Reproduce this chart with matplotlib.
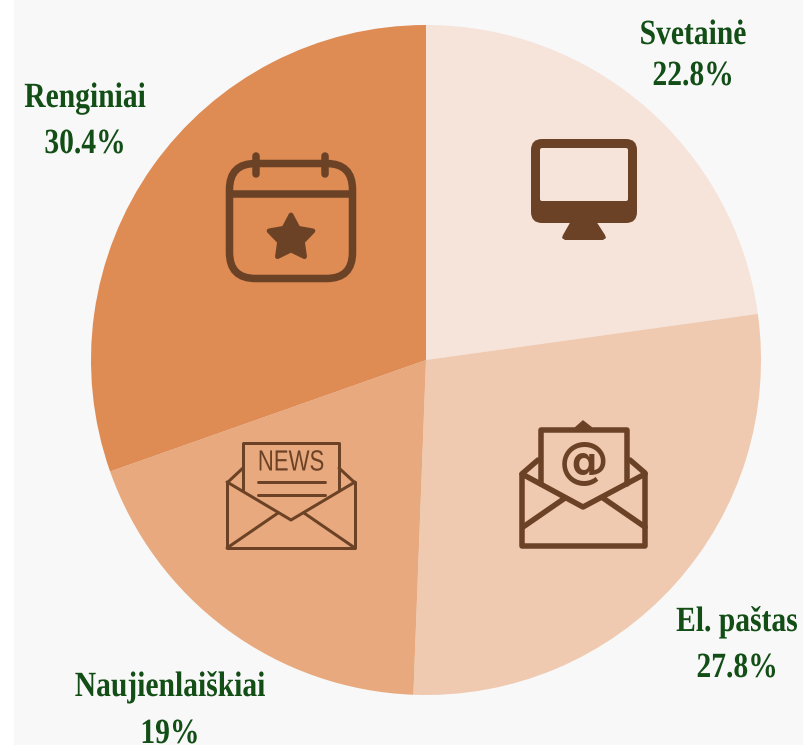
import matplotlib
matplotlib.use("Agg")
import numpy as np
import matplotlib.pyplot as plt
import matplotlib.patheffects as pe
from matplotlib.patches import FancyBboxPatch, Polygon, Rectangle
from matplotlib.transforms import Affine2D

# Data
categories = ["Svetainė", "El. paštas", "Naujienlaiškiai", "Renginiai"]
values = [22.8, 27.8, 19, 30.4]
value_labels = ["22.8%", "27.8%", "19%", "30.4%"]

# Style
slice_colors = ["#F6E3DA", "#EFCAB0", "#E8A97E", "#DE8B54"]
BG = "#F8F8F8"
ICON = "#6B4226"
GREEN = "#124E16"
W, H = 804, 745
CX, CY, R = 426, 360, 335
label_pos = [(693, 44, 85), (737, 631, 677), (170, 696, 743), (85, 107, 153)]


class SqueezeX(pe.AbstractPathEffect):
    """Narrow a text horizontally about a pixel x position (condensed look)."""

    def __init__(self, cx, sx):
        super().__init__()
        self.cx, self.sx = cx, sx

    def draw_path(self, renderer, gc, tpath, affine, rgbFace=None):
        a = affine + Affine2D().translate(-self.cx, 0).scale(self.sx, 1).translate(self.cx, 0)
        renderer.draw_path(gc, tpath, a, rgbFace)


fig = plt.figure(figsize=(W / 100, H / 100), dpi=100, facecolor=BG)

# White strip down the left edge
fig.add_artist(Rectangle((0, 0), 14 / W, 1, transform=fig.transFigure, fc="white", ec="none"))

pie_ax = fig.add_axes([(CX - R) / W, 1 - (CY + R) / H, 2 * R / W, 2 * R / H])
pie_ax.pie(values, colors=slice_colors, startangle=90, counterclock=False,
           radius=1, wedgeprops=dict(linewidth=0))
pie_ax.set_xlim(-1, 1)
pie_ax.set_ylim(-1, 1)
pie_ax.set_aspect("equal")
pie_ax.axis("off")

ax = fig.add_axes([0, 0, 1, 1], facecolor="none")
ax.set_xlim(0, W)
ax.set_ylim(H, 0)
ax.axis("off")

for cat, vl, (x, y1, y2) in zip(categories, value_labels, label_pos):
    for s, y in ((cat, y1), (vl, y2)):
        ax.text(x, y, s, ha="center", va="baseline", color=GREEN, fontsize=25.5,
                fontweight="bold", family="Liberation Serif",
                path_effects=[SqueezeX(x, 0.835)])


def line(pts, lw):
    xs, ys = zip(*pts)
    ax.plot(xs, ys, color=ICON, lw=lw * 0.72, solid_capstyle="round",
            solid_joinstyle="round")


def rrect(x0, y0, x1, y1, r, lw=0.0, fill=None):
    ax.add_patch(FancyBboxPatch((x0 + r, y0 + r), x1 - x0 - 2 * r, y1 - y0 - 2 * r,
                                boxstyle=f"round,pad={r},rounding_size={r}",
                                fc=fill if fill else "none",
                                ec=ICON if lw else "none", lw=lw * 0.72))


# Monitor
rrect(531, 139, 637, 223, 11, fill=ICON)
rrect(540, 148, 628, 201, 2, fill=slice_colors[0])
ax.add_patch(Polygon([(571, 221), (596, 221), (605, 235), (606, 238), (603, 240),
                      (565, 240), (562, 238), (563, 235)], closed=True, fc=ICON, ec="none"))

# Mail envelope
m = 5.5
line([(522, 474), (522, 546), (645, 546), (645, 474)], m)
line([(522, 474), (583, 507), (645, 474)], m)
line([(523, 527), (565, 498)], m)
line([(645, 527), (603, 498)], m)
line([(541, 484), (541, 430), (627, 430), (627, 484)], m)
line([(523, 473), (538, 460)], m)
line([(645, 473), (630, 460)], m)
ax.add_patch(Polygon([(575, 428), (583, 421), (592, 428)], closed=True, fc=ICON, ec=ICON, lw=1))
ax.text(583.5, 463, "@", ha="center", va="center", color=ICON, fontsize=36,
        fontweight="bold", family="DejaVu Sans")

# News envelope
n = 3.0
line([(227, 482), (227, 548), (355, 548), (355, 482)], n)
line([(227, 482), (291, 520), (355, 482)], n)
line([(227, 548), (278, 513)], n)
line([(355, 548), (304, 513)], n)
line([(243, 490), (243, 443), (339, 443), (339, 490)], n)
line([(228, 482), (243, 468)], n)
line([(354, 482), (339, 468)], n)
line([(258, 482), (325, 482)], n)
line([(258, 495), (325, 495)], n)
ax.text(291, 462.5, "NEWS", ha="center", va="center", color=ICON, fontsize=21,
        family="Liberation Sans", path_effects=[SqueezeX(291, 0.76)])

# Calendar
c = 7.5
rrect(229.5, 163.5, 352.5, 278.5, 26, lw=c)
line([(230, 194), (352, 194)], c)
line([(256, 156), (256, 174)], c)
line([(325, 156), (325, 174)], c)
# Rounded star
ang = np.deg2rad(np.arange(10) * 36 - 90)
rad = np.where(np.arange(10) % 2 == 0, 23, 12)
star = np.column_stack([291 + rad * np.cos(ang), 238 + rad * np.sin(ang)])
ax.add_patch(Polygon(star, closed=True, fc=ICON, ec=ICON, lw=3.5, joinstyle="round"))

fig.savefig("out.png", dpi=100, facecolor=BG)
